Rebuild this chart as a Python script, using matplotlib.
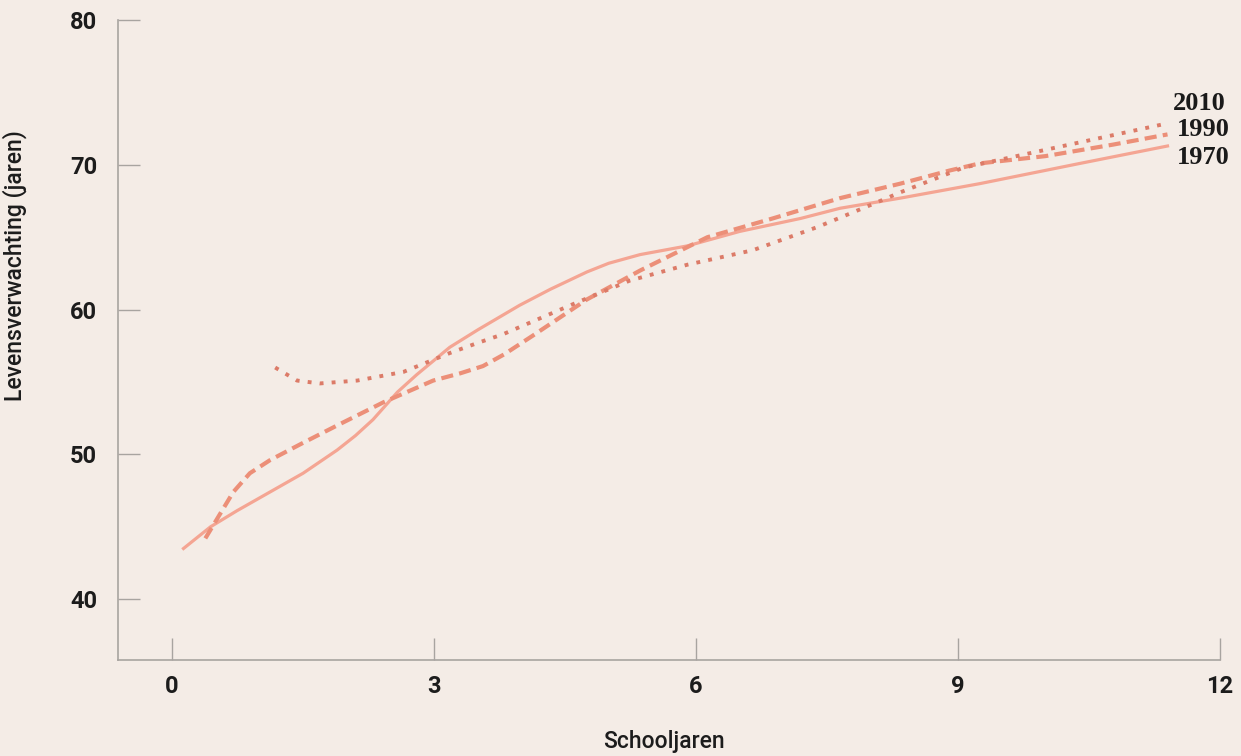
import matplotlib
import matplotlib.pyplot as plt

matplotlib.use('Agg')

# levensverwachting per aantal schooljaren
jaren_1970 = [0.13, 0.44, 0.74, 1.12, 1.5, 1.89, 2.1, 2.3, 2.58, 2.8, 3.18, 3.5, 3.98, 4.33,
              4.75, 5.0, 5.36, 5.9, 6.5, 7.2, 7.65, 8.34, 9.25, 10.4, 11.4]
leeft_1970 = [43.5, 45.0, 46.1, 47.4, 48.7, 50.3, 51.3, 52.4, 54.3, 55.5, 57.4, 58.6, 60.3, 61.4,
              62.6, 63.2, 63.8, 64.4, 65.4, 66.3, 67.0, 67.7, 68.7, 70.1, 71.3]

jaren_1990 = [0.38, 0.55, 0.7, 0.89, 1.12, 1.5, 1.89, 2.42, 2.99, 3.3, 3.56, 3.8, 4.13, 4.75,
              5.36, 6.13, 6.88, 7.65, 8.34, 8.9, 9.25, 10.0, 10.78, 11.4]
leeft_1990 = [44.2, 45.9, 47.4, 48.7, 49.6, 50.8, 52.0, 53.6, 55.1, 55.6, 56.1, 56.9, 58.2, 60.7,
              62.7, 65.0, 66.3, 67.7, 68.7, 69.6, 70.1, 70.6, 71.4, 72.1]

jaren_2010 = [1.18, 1.43, 1.69, 2.12, 2.65, 3.18, 3.5, 3.79, 4.06, 4.6, 5.24, 5.9, 6.65, 7.39,
              8.03, 8.34, 9.06, 10.28, 11.35]
leeft_2010 = [56.0, 55.1, 54.9, 55.1, 55.7, 57.0, 57.7, 58.3, 59.0, 60.4, 62.0, 63.1, 64.1, 65.7,
              67.3, 68.1, 69.8, 71.4, 72.8]

x_ticks = [0, 3, 6, 9, 12]
y_ticks = [40, 50, 60, 70, 80]

bg = '#f4ece6'
plt.rcParams['font.family'] = ['Roboto', 'DejaVu Sans']

fig = plt.figure(figsize=(12.41, 7.56), dpi=100, facecolor=bg)
ax = fig.add_axes([0.0951, 0.127, 0.8879, 0.8465], facecolor=bg)

# lijnen
ax.plot(jaren_1970, leeft_1970, color='#f4a593', lw=2.3, solid_joinstyle='round')
ax.plot(jaren_1990, leeft_1990, color='#ec8f78', lw=3.0, dashes=(2.9, 1.5))
ax.plot(jaren_2010, leeft_2010, color='#dc7b68', lw=2.8, dashes=(1.0, 2.1))

# jaartallen naast de lijnen
serif = dict(family='Liberation Serif', fontsize=19, fontweight='bold', color='#1a1a1a',
             va='center', ha='left')
ax.annotate('2010', (jaren_2010[-1], leeft_2010[-1]), xytext=(7, 15),
            textcoords='offset points', annotation_clip=False, **serif)
ax.annotate('1990', (jaren_1990[-1], leeft_1990[-1]), xytext=(7, 3.6),
            textcoords='offset points', annotation_clip=False, **serif)
ax.annotate('1970', (jaren_1970[-1], leeft_1970[-1]), xytext=(7, -8.6),
            textcoords='offset points', annotation_clip=False, **serif)

ax.set_xlim(-0.62, 12)
ax.set_ylim(35.8, 80)
ax.set_xticks(x_ticks)
ax.set_yticks(y_ticks)

for s in ['top', 'right']:
    ax.spines[s].set_visible(False)
for s in ['left', 'bottom']:
    ax.spines[s].set_color('#a8a4a0')
    ax.spines[s].set_linewidth(1.2)

ax.tick_params(axis='both', direction='in', length=16, width=1.0, color='#a8a4a0',
               labelsize=17, labelcolor='#1c1c1c')
ax.tick_params(axis='y', pad=15)
ax.tick_params(axis='x', pad=11)
for lab in ax.get_xticklabels() + ax.get_yticklabels():
    lab.set_fontweight('bold')

ax.set_ylabel('Levensverwachting (jaren)', fontsize=16.5, fontweight='medium', color='#1c1c1c')
ax.yaxis.set_label_coords(-0.083, 0.617)
ax.set_xlabel('Schooljaren', fontsize=16.5, fontweight='medium', color='#1c1c1c')
ax.xaxis.set_label_coords(0.495, -0.11)

fig.savefig('out.png', dpi=100, facecolor=bg)
